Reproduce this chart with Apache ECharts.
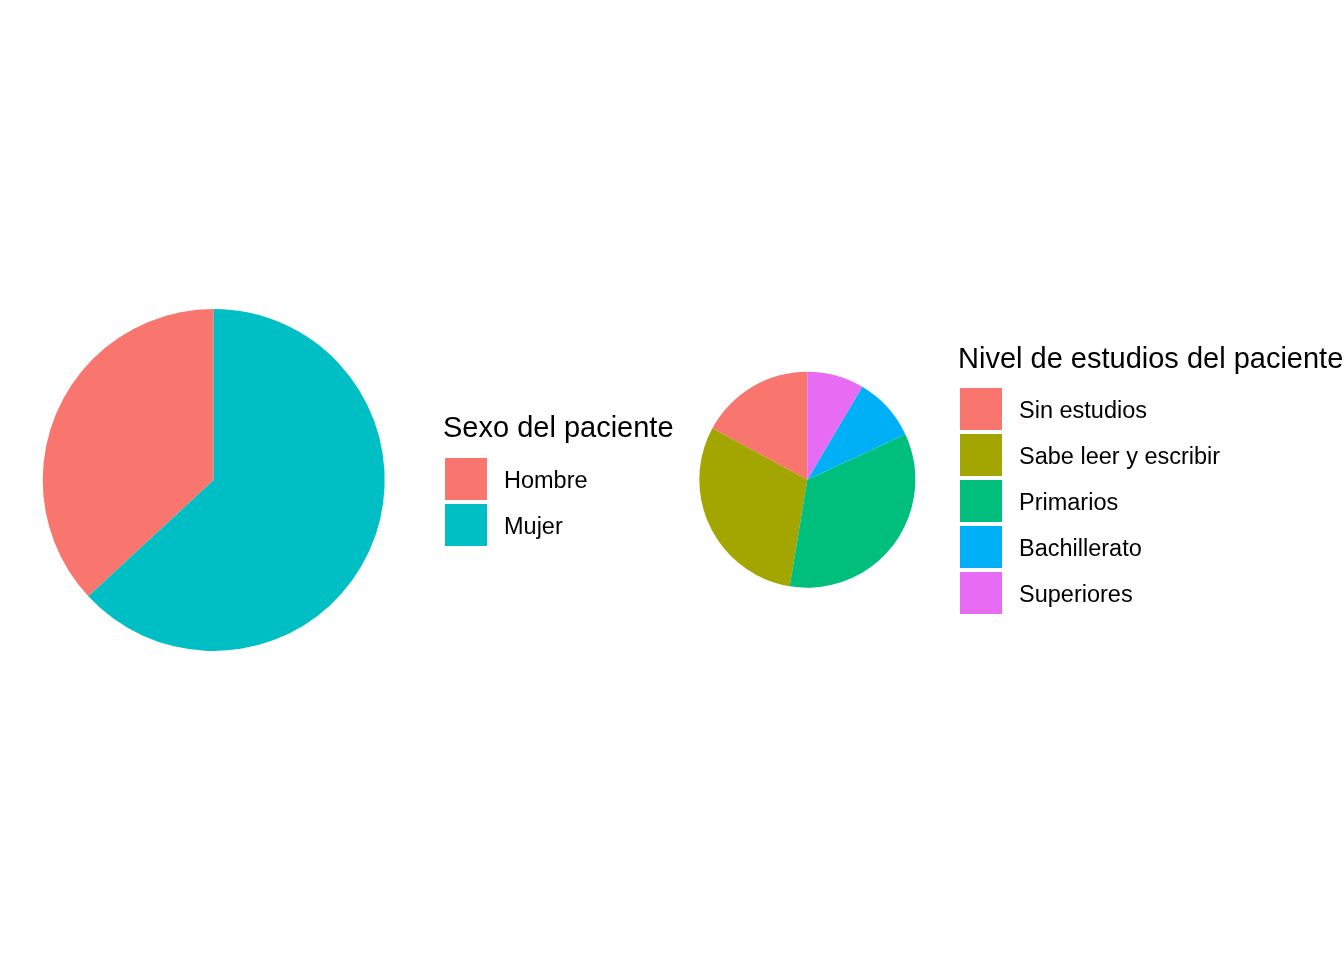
<!DOCTYPE html>
<html>
<head>
<meta charset="utf-8">
<script src="https://cdn.jsdelivr.net/npm/echarts@6/dist/echarts.min.js"></script>
<style>html,body{margin:0;padding:0;background:#fff}#c{width:1344px;height:960px}</style>
</head>
<body>
<div id="c"></div>
<script>
// Data
const sexoTitle = 'Sexo del paciente';
const sexoCategories = ['Hombre', 'Mujer'];
const sexoValues = [36.9, 63.1];
const sexoColors = ['#F8766D', '#00BFC4'];

const estudiosTitle = 'Nivel de estudios del paciente';
const estudiosCategories = ['Sin estudios', 'Sabe leer y escribir', 'Primarios', 'Bachillerato', 'Superiores'];
const estudiosValues = [17.1, 30.3, 34.5, 9.6, 8.5];
const estudiosColors = ['#F8766D', '#A3A500', '#00BF7D', '#00B0F6', '#E76BF3'];

const FONT = '"Liberation Sans", Arial, Helvetica, sans-serif';

function pieSeries(cats, vals, cols, center, radius) {
  return {
    type: 'pie',
    center: center,
    radius: radius,
    startAngle: 90,
    clockwise: false,
    minAngle: 0,
    avoidLabelOverlap: false,
    label: { show: false },
    labelLine: { show: false },
    emphasis: { disabled: true },
    animation: false,
    itemStyle: { borderWidth: 0 },
    data: cats.map((c, i) => ({ name: c, value: vals[i], itemStyle: { color: cols[i] } }))
  };
}

function legendFor(cats, left, top) {
  return {
    data: cats,
    orient: 'vertical',
    left: left,
    top: top,
    padding: 0,
    itemWidth: 42,
    itemHeight: 42,
    itemGap: 4,
    icon: 'rect',
    selectedMode: false,
    formatter: '{a|{name}}{b|}',
    textStyle: {
      fontFamily: FONT, fontSize: 23.5, color: '#000', padding: [0, 0, 0, 12],
      rich: {
        a: { fontFamily: FONT, fontSize: 23.5, color: '#000', lineHeight: 26, verticalAlign: 'bottom' },
        b: { fontFamily: FONT, fontSize: 23.5, lineHeight: 30 }
      }
    }
  };
}

const chart = echarts.init(document.getElementById('c'), null, { renderer: 'canvas' });
chart.setOption({
  backgroundColor: '#fff',
  animation: false,
  title: [
    { text: sexoTitle, left: 443, top: 414, padding: 0,
      textStyle: { fontFamily: FONT, fontSize: 29, fontWeight: 'normal', color: '#000' } },
    { text: estudiosTitle, left: 958, top: 345, padding: 0,
      textStyle: { fontFamily: FONT, fontSize: 29, fontWeight: 'normal', color: '#000' } }
  ],
  legend: [
    legendFor(sexoCategories, 445, 458),
    legendFor(estudiosCategories, 960, 388)
  ],
  series: [
    pieSeries(sexoCategories, sexoValues, sexoColors, [213.7, 480], 171),
    pieSeries(estudiosCategories, estudiosValues, estudiosColors, [807.3, 479.7], 108)
  ]
});
</script>
</body>
</html>
